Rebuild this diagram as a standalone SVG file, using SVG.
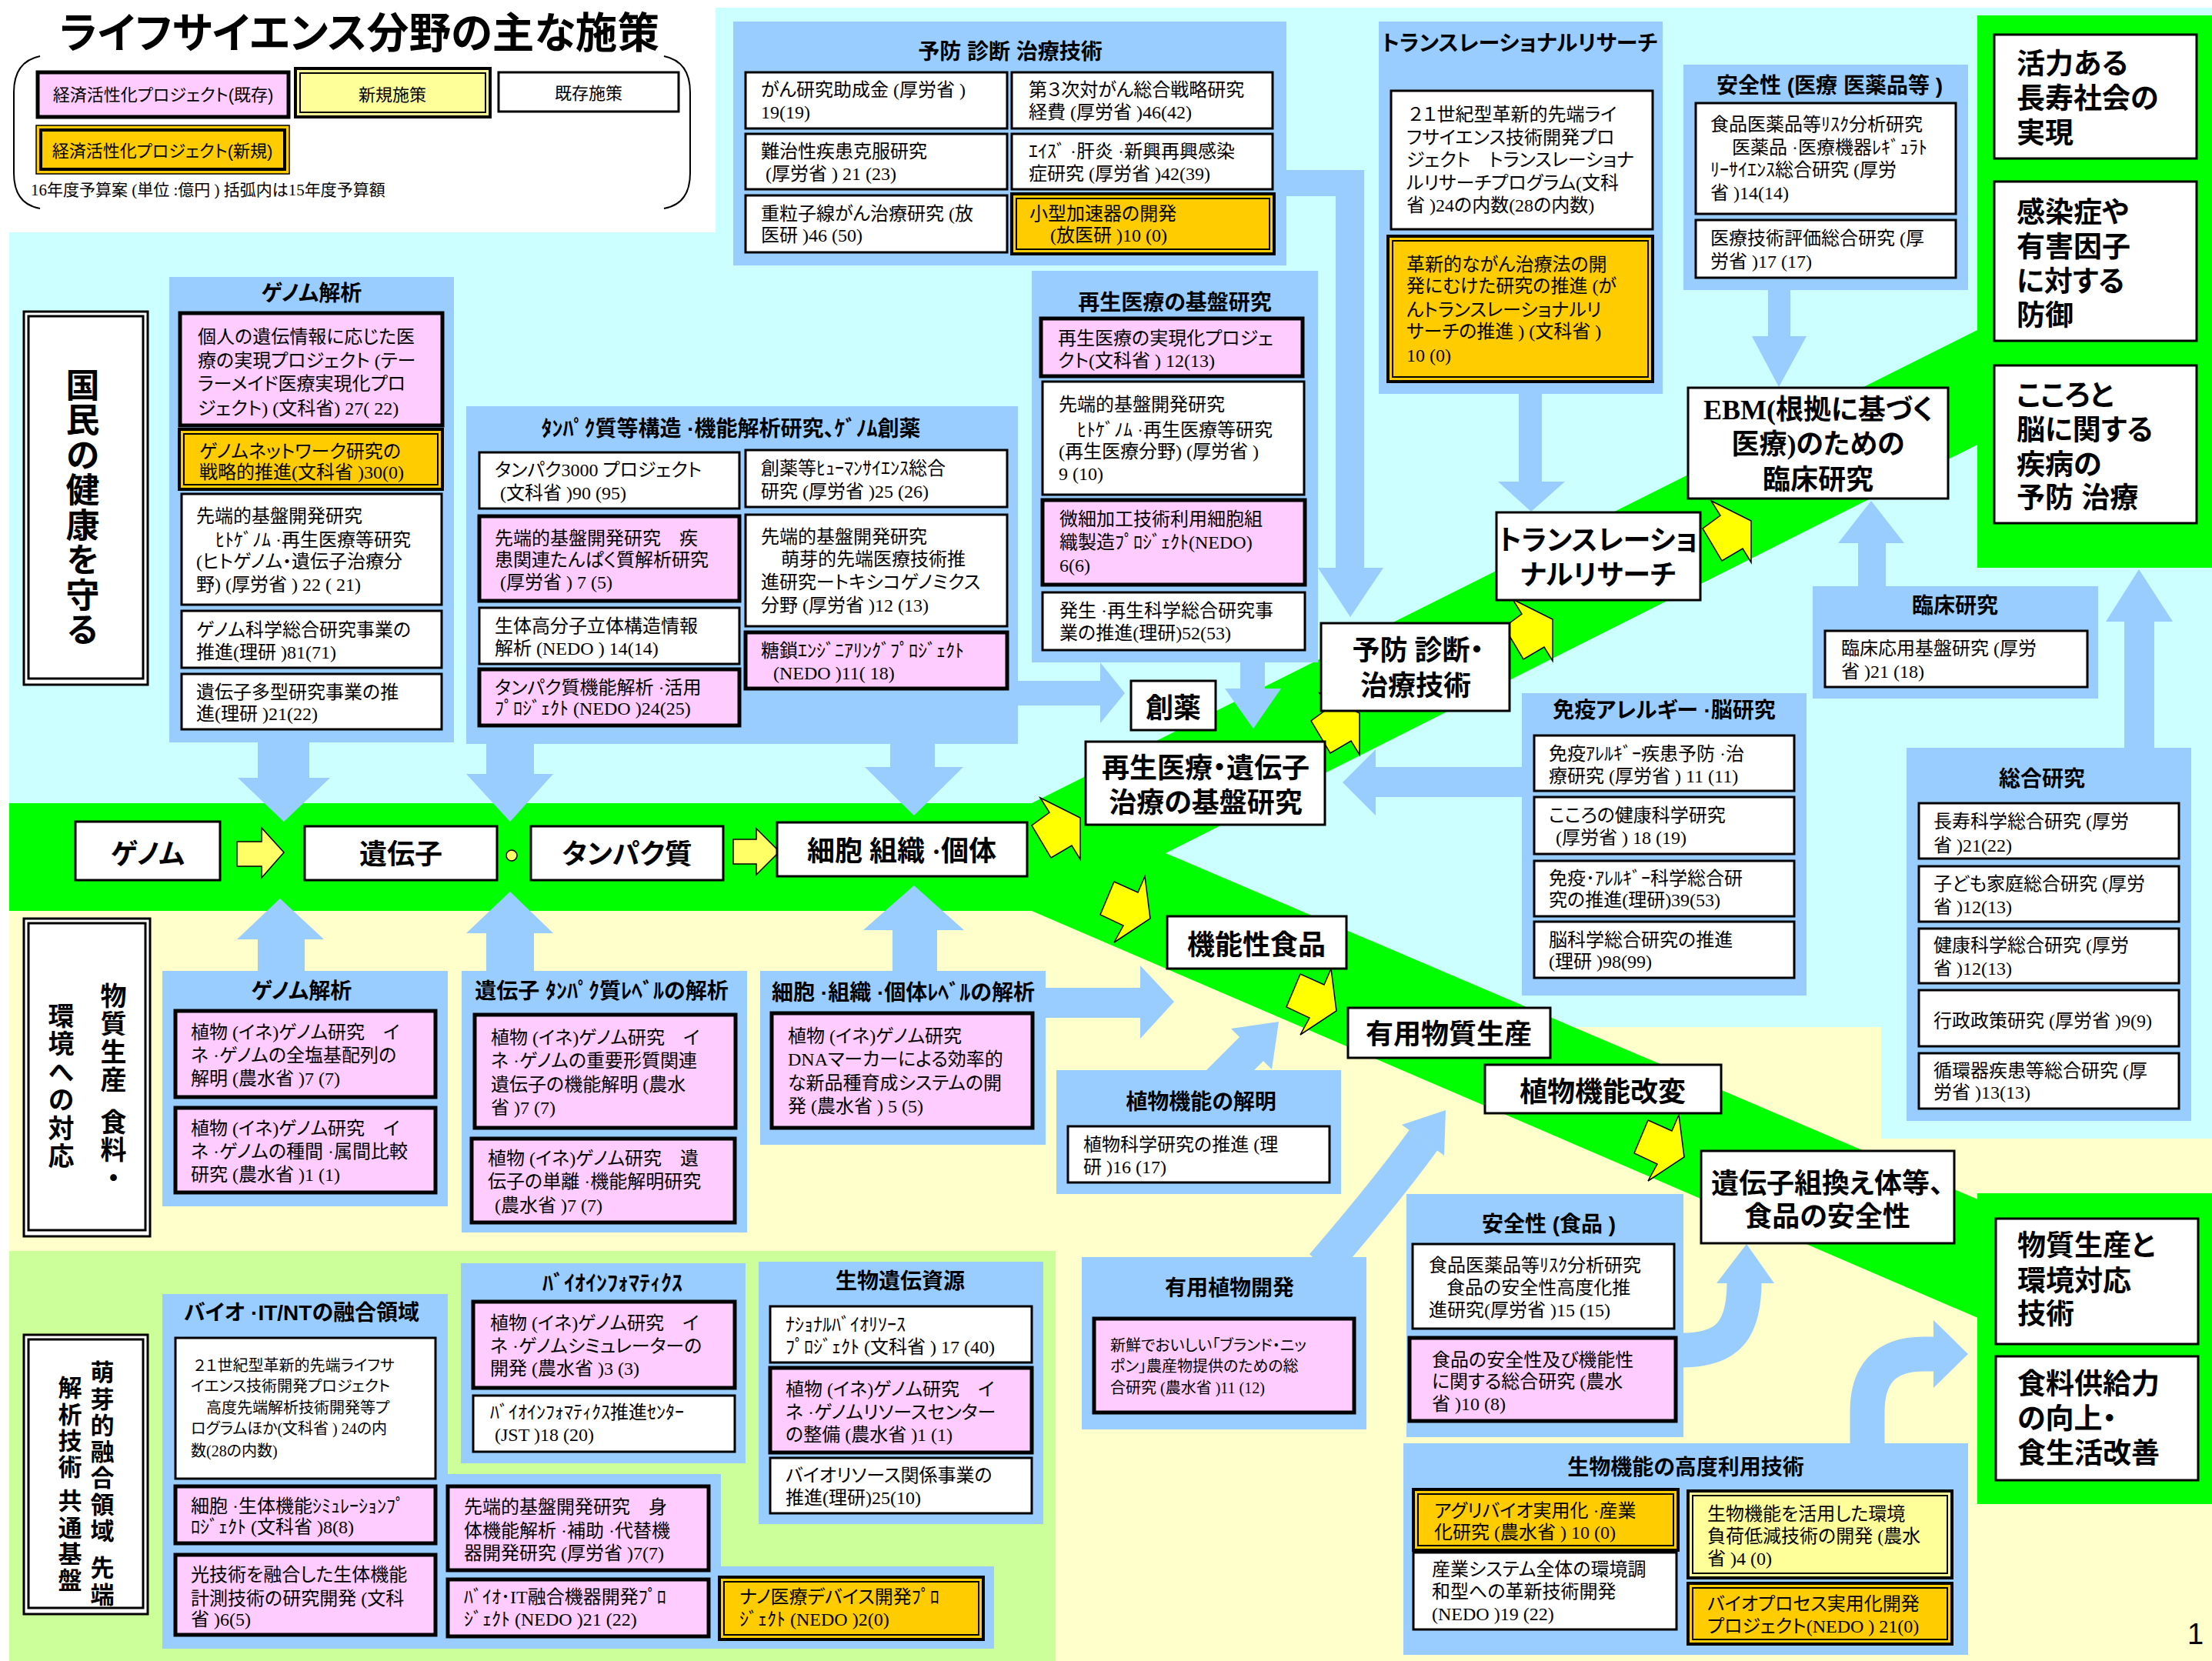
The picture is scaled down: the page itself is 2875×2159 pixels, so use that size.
<svg xmlns="http://www.w3.org/2000/svg" width="2875" height="2159" viewBox="0 0 2875 2159">
<style>
.cy{fill:#CCFFFF}.yl{fill:#FFFFCC}.lg{fill:#CCFF99}.gr{fill:#00FF00}
.pn{fill:#99CCFF}.ar{fill:#99CCFF}.arl{fill:none;stroke:#99CCFF;stroke-width:45}
.w{fill:#fff;stroke:#000;stroke-width:3}
.p{fill:#FFCCFF;stroke:#000;stroke-width:5}
.o{fill:#FFCC00;stroke:#000;stroke-width:4}
.y{fill:#FFFF99;stroke:#000;stroke-width:4}
.in{fill:none;stroke:#000;stroke-width:2}
.bolt{fill:#FFFF00;stroke:#000;stroke-width:1.5}
.ya{fill:#FFFF66;stroke:#000;stroke-width:1.5}
text{font-feature-settings:"palt" 1;fill:#000}
.t{font-family:'Liberation Serif','Noto Sans CJK JP',serif;font-size:24px}
.ts{font-size:20px}
.h{font-family:'Liberation Sans','Noto Sans CJK JP',sans-serif;font-weight:700;font-size:28px;text-anchor:middle}
.n{font-family:'Liberation Serif','Noto Sans CJK JP',sans-serif;font-weight:700;font-size:36px;text-anchor:middle}
.g{font-family:'Liberation Sans','Noto Sans CJK JP',sans-serif;font-weight:700;font-size:37px}
.vt{font-family:'Liberation Sans','Noto Sans CJK JP',sans-serif;font-weight:700;writing-mode:vertical-rl;font-feature-settings:normal}
.lt{font-family:'Liberation Sans','Noto Sans CJK JP',sans-serif;font-size:22px;text-anchor:middle}
</style>
<defs>
<polygon id="bu" points="11,0 63,26 63,80 52,62 25,78 0,36 23,19"/>
<polygon id="bd" points="58,2 65,57 18,88 30,66 0,52 18,9 49,23"/>
</defs>
<g id="background">
<rect fill="#fff" width="2875" height="2159"/>
<rect class="yl" x="12" y="1044" width="2863" height="1115"/>
<polygon class="cy" points="12,302 930,302 930,10 2875,10 2875,1480 2445,1480 2445,1335 2045,1335 1515,1109 1341,1044 12,1044"/>
<rect class="lg" x="12" y="1626" width="1360" height="533"/>
<polygon class="gr" points="12,1044 1341,1044 2580,424 2580,573 1515,1109 2580,1563 2580,1717 1341,1184 12,1184"/>
<rect class="gr" x="2570" y="20" width="305" height="718"/>
<rect class="gr" x="2570" y="1551" width="305" height="404"/>
</g>
<g id="title">
<text x="77" y="62" font-family="'Noto Sans CJK JP',sans-serif" font-weight="700" font-size="55" textLength="780" lengthAdjust="spacingAndGlyphs">ライフサイエンス分野の主な施策</text>
</g>
<g id="legend">
<path d="M52,73 Q18,80 18,120 L18,225 Q18,265 52,271" fill="none" stroke="#000" stroke-width="2"/>
<path d="M863,73 Q897,80 897,120 L897,225 Q897,265 863,271" fill="none" stroke="#000" stroke-width="2"/>
<rect class="p" x="49" y="94" width="326" height="58"/>
<text class="lt" x="212" y="131">経済活性化プロジェクト(既存)</text>
<rect class="y" x="384" y="89" width="253" height="63"/>
<rect class="in" x="390" y="95" width="241" height="51"/>
<text class="lt" x="510" y="131">新規施策</text>
<rect class="w" x="648" y="94" width="234" height="51" stroke-width="2.5"/>
<text class="lt" x="765" y="129">既存施策</text>
<rect fill="#FFCC00" stroke="#000" stroke-width="1.5" x="47" y="163" width="329" height="63"/>
<rect fill="none" stroke="#000" stroke-width="4" x="53" y="169" width="317" height="51"/>
<text class="lt" x="211" y="204">経済活性化プロジェクト(新規)</text>
<text x="40" y="254" font-family="'Liberation Serif','Noto Sans CJK JP',serif" font-size="21">16年度予算案 (単位 :億円 ) 括弧内は15年度予算額</text>
</g>

<g id="connectors">
<polygon class="ar" points="335,965 402,965 402,1011 429,1011 369,1068 309,1011 335,1011"/>
<polygon class="ar" points="632,967 694,967 694,1006 719,1006 663,1068 606,1006 632,1006"/>
<polygon class="ar" points="1157,967 1215,967 1215,997 1252,997 1188,1060 1124,997 1157,997"/>
<polygon class="ar" points="1323,885 1430,885 1430,861 1462,901 1430,940 1430,917 1323,917"/>
<polygon class="ar" points="1672,221 1773,221 1773,738 1798,738 1755,802 1713,738 1736,738 1736,255 1672,255"/>
<polygon class="ar" points="1612,861 1644,861 1644,895 1665,895 1629,947 1592,895 1612,895"/>
<polygon class="ar" points="1974,512 2004,512 2004,626 2034,626 1990,665 1947,626 1974,626"/>
<polygon class="ar" points="2298,377 2327,377 2327,437 2348,437 2312,503 2277,437 2298,437"/>
<polygon class="ar" points="2415,762 2451,762 2451,706 2475,706 2432,651 2389,706 2415,706"/>
<polygon class="ar" points="2761,972 2800,972 2800,808 2824,808 2780,740 2737,808 2761,808"/>
<polygon class="ar" points="1978,997 1788,997 1788,974 1745,1017 1788,1060 1788,1036 1978,1036"/>
<polygon class="ar" points="335,1262 396,1262 396,1221 421,1221 364,1168 308,1221 335,1221"/>
<polygon class="ar" points="632,1262 694,1262 694,1213 719,1213 663,1159 606,1213 632,1213"/>
<polygon class="ar" points="1160,1262 1218,1262 1218,1209 1253,1209 1188,1151 1122,1209 1160,1209"/>
<polygon class="ar" points="1359,1284 1482,1284 1482,1255 1526,1302 1482,1350 1482,1323 1359,1323"/>
<polygon class="ar" points="1568,1391 1611,1348 1600,1337 1662,1328 1653,1390 1642,1379 1630,1391"/>
<path class="arl" d="M1719,1645 Q1803,1547 1850,1482"/>
<polygon class="ar" points="1879,1443 1822,1462 1877,1502"/>
<path class="arl" d="M2186,1755 C2245,1755 2267,1730 2267,1666"/>
<polygon class="ar" points="2231,1668 2306,1668 2270,1617"/>
<path class="arl" d="M2427,1880 L2427,1835 Q2427,1760 2500,1760 L2515,1760"/>
<polygon class="ar" points="2513,1716 2558,1760 2513,1804"/>
<polygon class="ya" points="308,1094 340,1094 340,1076 369,1108 340,1141 340,1126 308,1126"/>
<circle class="ya" cx="665" cy="1112" r="7" stroke="none"/>
<polygon class="ya" points="953,1091 983,1091 983,1077 1013,1107 983,1137 983,1123 953,1123"/>
<use href="#bu" class="bolt" x="1341" y="1037"/>
<use href="#bu" class="bolt" x="1704" y="901"/>
<use href="#bu" class="bolt" x="1955" y="779"/>
<use href="#bu" class="bolt" x="2213" y="651"/>
<use href="#bd" class="bolt" x="1430" y="1137"/>
<use href="#bd" class="bolt" x="1672" y="1257"/>
<use href="#bd" class="bolt" x="2124" y="1447"/>
</g>

<g id="label-health">
<rect fill="#fff" stroke="#000" stroke-width="3" x="31" y="405" width="161" height="485"/>
<rect fill="none" stroke="#000" stroke-width="3" x="37" y="411" width="149" height="471"/>
<text class="vt" x="104" y="478" font-size="44" letter-spacing="1.5">国民の健康を守る</text>
</g>
<g id="label-material">
<rect fill="#fff" stroke="#000" stroke-width="3" x="31" y="1194" width="164" height="413"/>
<rect fill="none" stroke="#000" stroke-width="3" x="37" y="1200" width="152" height="399"/>
<text class="vt" x="145" y="1277" font-size="34" letter-spacing="2.5">物質生産</text>
<text class="vt" x="145" y="1441" font-size="34" letter-spacing="2.5">食料・</text>
<text class="vt" x="77" y="1303" font-size="34" letter-spacing="2.5">環境への対応</text>
</g>
<g id="label-emerging">
<rect fill="#fff" stroke="#000" stroke-width="3" x="31" y="1735" width="161" height="363"/>
<rect fill="none" stroke="#000" stroke-width="3" x="37" y="1741" width="149" height="349"/>
<text class="vt" x="130" y="1768" font-size="31" letter-spacing="3.3">萌芽的融合領域</text>
<text class="vt" x="130" y="2022" font-size="31" letter-spacing="3.3">先端</text>
<text class="vt" x="88" y="1788" font-size="31" letter-spacing="3.3">解析技術</text>
<text class="vt" x="88" y="1935" font-size="31" letter-spacing="3.3">共通基盤</text>
</g>

<g id="panel-genome-health">
<rect class="pn" x="220" y="360" width="370" height="605"/>
<text class="h" x="405" y="391">ゲノム解析</text>
<g id="b1"><rect class="p" x="234" y="407" width="341" height="146"/><text class="t"><tspan x="257" y="446">個人の遺伝情報に応じた医</tspan><tspan x="257" y="477">療の実現プロジェクト (テー</tspan><tspan x="257" y="507">ラーメイド医療実現化プロ</tspan><tspan x="257" y="539">ジェクト) (文科省) 27( 22)</tspan></text></g>
<g id="b2"><rect class="o" x="233" y="558" width="342" height="78"/><rect class="in" x="239" y="564" width="330" height="66"/><text class="t"><tspan x="259" y="595">ゲノムネットワーク研究の</tspan><tspan x="259" y="622">戦略的推進(文科省 )30(0)</tspan></text></g>
<g id="b3"><rect class="w" x="236" y="642" width="338" height="144"/><text class="t"><tspan x="255" y="679">先端的基盤開発研究</tspan><tspan x="280" y="710">ﾋﾄｹﾞﾉﾑ ·再生医療等研究</tspan><tspan x="255" y="738">(ヒトゲノム・遺伝子治療分</tspan><tspan x="255" y="768">野) (厚労省 ) 22 ( 21)</tspan></text></g>
<g id="b4"><rect class="w" x="236" y="794" width="338" height="74"/><text class="t"><tspan x="255" y="827">ゲノム科学総合研究事業の</tspan><tspan x="255" y="856">推進(理研 )81(71)</tspan></text></g>
<g id="b5"><rect class="w" x="236" y="876" width="338" height="72"/><text class="t"><tspan x="255" y="908">遺伝子多型研究事業の推</tspan><tspan x="255" y="936">進(理研 )21(22)</tspan></text></g>
</g>

<g id="panel-protein">
<rect class="pn" x="606" y="528" width="717" height="439"/>
<text class="h" x="950" y="567" font-size="27">ﾀﾝﾊﾟｸ質等構造 ·機能解析研究、ｹﾞﾉﾑ創薬</text>
<g id="b6"><rect class="w" x="623" y="588" width="338" height="73"/><text class="t"><tspan x="643" y="619">タンパク3000 プロジェクト</tspan><tspan x="650" y="649">(文科省 )90 (95)</tspan></text></g>
<g id="b7"><rect class="p" x="623" y="671" width="338" height="110"/><text class="t"><tspan x="643" y="708">先端的基盤開発研究　疾</tspan><tspan x="643" y="736">患関連たんぱく質解析研究</tspan><tspan x="650" y="765">(厚労省 ) 7 (5)</tspan></text></g>
<g id="b8"><rect class="w" x="623" y="790" width="338" height="73"/><text class="t"><tspan x="643" y="822">生体高分子立体構造情報</tspan><tspan x="643" y="851">解析 (NEDO ) 14(14)</tspan></text></g>
<g id="b9"><rect class="p" x="623" y="870" width="338" height="73"/><text class="t"><tspan x="643" y="902">タンパク質機能解析 ·活用</tspan><tspan x="643" y="929">ﾌﾟﾛｼﾞｪｸﾄ (NEDO )24(25)</tspan></text></g>
<g id="b10"><rect class="w" x="969" y="585" width="340" height="74"/><text class="t"><tspan x="989" y="617">創薬等ﾋｭｰﾏﾝｻｲｴﾝｽ総合</tspan><tspan x="989" y="647">研究 (厚労省 )25 (26)</tspan></text></g>
<g id="b11"><rect class="w" x="969" y="669" width="340" height="145"/><text class="t"><tspan x="989" y="706">先端的基盤開発研究</tspan><tspan x="1015" y="735">萌芽的先端医療技術推</tspan><tspan x="989" y="765">進研究ートキシコゲノミクス</tspan><tspan x="989" y="795">分野 (厚労省 )12 (13)</tspan></text></g>
<g id="b12"><rect class="p" x="969" y="822" width="340" height="73"/><text class="t"><tspan x="989" y="854">糖鎖ｴﾝｼﾞﾆｱﾘﾝｸﾞﾌﾟﾛｼﾞｪｸﾄ</tspan><tspan x="1005" y="883">(NEDO )11( 18)</tspan></text></g>
</g>

<g id="panel-prevention">
<rect class="pn" x="953" y="28" width="719" height="317"/>
<text class="h" x="1313" y="77" font-size="30">予防 診断 治療技術</text>
<g id="b13"><rect class="w" x="969" y="94" width="340" height="73"/><text class="t"><tspan x="989" y="125">がん研究助成金 (厚労省 )</tspan><tspan x="989" y="154">19(19)</tspan></text></g>
<g id="b14"><rect class="w" x="1315" y="94" width="339" height="73"/><text class="t"><tspan x="1337" y="125">第３次対がん総合戦略研究</tspan><tspan x="1337" y="154">経費 (厚労省 )46(42)</tspan></text></g>
<g id="b15"><rect class="w" x="969" y="174" width="340" height="72"/><text class="t"><tspan x="989" y="205">難治性疾患克服研究</tspan><tspan x="995" y="234">(厚労省 ) 21 (23)</tspan></text></g>
<g id="b16"><rect class="w" x="1315" y="174" width="339" height="72"/><text class="t"><tspan x="1337" y="205">ｴｲｽﾞ ·肝炎 ·新興再興感染</tspan><tspan x="1337" y="234">症研究 (厚労省 )42(39)</tspan></text></g>
<g id="b17"><rect class="w" x="969" y="254" width="340" height="74"/><text class="t"><tspan x="989" y="286">重粒子線がん治療研究 (放</tspan><tspan x="989" y="314">医研 )46 (50)</tspan></text></g>
<g id="b18"><rect class="o" x="1315" y="252" width="341" height="78"/><rect class="in" x="1321" y="258" width="329" height="66"/><text class="t"><tspan x="1338" y="286">小型加速器の開発</tspan><tspan x="1365" y="314">(放医研 )10 (0)</tspan></text></g>
</g>

<g id="panel-regenerative">
<rect class="pn" x="1341" y="352" width="372" height="509"/>
<text class="h" x="1527" y="403" font-size="30">再生医療の基盤研究</text>
<g id="b19"><rect class="p" x="1353" y="414" width="340" height="75"/><text class="t"><tspan x="1375" y="448">再生医療の実現化プロジェ</tspan><tspan x="1375" y="477">クト(文科省 ) 12(13)</tspan></text></g>
<g id="b20"><rect class="w" x="1355" y="496" width="340" height="147"/><text class="t"><tspan x="1376" y="534">先端的基盤開発研究</tspan><tspan x="1400" y="567">ﾋﾄｹﾞﾉﾑ ·再生医療等研究</tspan><tspan x="1376" y="595">(再生医療分野) (厚労省 )</tspan><tspan x="1376" y="624">9 (10)</tspan></text></g>
<g id="b21"><rect class="p" x="1355" y="650" width="341" height="110"/><text class="t"><tspan x="1377" y="683">微細加工技術利用細胞組</tspan><tspan x="1377" y="713">織製造ﾌﾟﾛｼﾞｪｸﾄ(NEDO)</tspan><tspan x="1377" y="743">6(6)</tspan></text></g>
<g id="b22"><rect class="w" x="1355" y="770" width="341" height="75"/><text class="t"><tspan x="1377" y="802">発生 ·再生科学総合研究事</tspan><tspan x="1377" y="831">業の推進(理研)52(53)</tspan></text></g>
</g>

<g id="panel-translational">
<rect class="pn" x="1792" y="28" width="369" height="484"/>
<text class="h" x="1975" y="66" font-size="25">トランスレーショナルリサーチ</text>
<g id="b23"><rect class="w" x="1808" y="118" width="340" height="180"/><text class="t"><tspan x="1831" y="157">２１世紀型革新的先端ライ</tspan><tspan x="1828" y="187">フサイエンス技術開発プロ</tspan><tspan x="1828" y="216">ジェクト　トランスレーショナ</tspan><tspan x="1828" y="246">ルリサーチプログラム(文科</tspan><tspan x="1828" y="275">省 )24の内数(28の内数)</tspan></text></g>
<g id="b24"><rect class="o" x="1804" y="307" width="344" height="189"/><rect class="in" x="1810" y="313" width="332" height="177"/><text class="t"><tspan x="1828" y="352">革新的ながん治療法の開</tspan><tspan x="1828" y="380">発にむけた研究の推進 (が</tspan><tspan x="1828" y="411">んトランスレーショナルリ</tspan><tspan x="1828" y="439">サーチの推進 ) (文科省 )</tspan><tspan x="1828" y="470">10 (0)</tspan></text></g>
</g>

<g id="panel-safety-medical">
<rect class="pn" x="2188" y="84" width="370" height="293"/>
<text class="h" x="2378" y="121" font-size="30">安全性 (医療 医薬品等 )</text>
<g id="b25"><rect class="w" x="2204" y="134" width="338" height="144"/><text class="t"><tspan x="2223" y="170">食品医薬品等ﾘｽｸ分析研究</tspan><tspan x="2251" y="200">医薬品 ·医療機器ﾚｷﾞｭﾗﾄ</tspan><tspan x="2223" y="229">ﾘｰｻｲｴﾝｽ総合研究 (厚労</tspan><tspan x="2223" y="259">省 )14(14)</tspan></text></g>
<g id="b26"><rect class="w" x="2204" y="286" width="338" height="75"/><text class="t"><tspan x="2223" y="318">医療技術評価総合研究 (厚</tspan><tspan x="2223" y="348">労省 )17 (17)</tspan></text></g>
</g>

<g id="goal-vitality"><rect class="w" x="2592" y="45" width="263" height="161"/><text class="g"><tspan x="2621" y="96">活力ある</tspan><tspan x="2621" y="141">長寿社会の</tspan><tspan x="2621" y="186">実現</tspan></text></g>
<g id="goal-infection"><rect class="w" x="2592" y="236" width="263" height="207"/><text class="g"><tspan x="2621" y="289">感染症や</tspan><tspan x="2621" y="334">有害因子</tspan><tspan x="2621" y="379">に対する</tspan><tspan x="2621" y="423">防御</tspan></text></g>
<g id="goal-mind"><rect class="w" x="2592" y="475" width="263" height="205"/><text class="g"><tspan x="2621" y="527">こころと</tspan><tspan x="2621" y="572">脳に関する</tspan><tspan x="2621" y="617">疾病の</tspan><tspan x="2621" y="660">予防 治療</tspan></text></g>

<g id="node-ebm"><rect class="w" x="2194" y="504" width="338" height="144"/><text class="n"><tspan x="2363" y="545">EBM(根拠に基づく</tspan><tspan x="2363" y="590">医療)のための</tspan><tspan x="2363" y="636">臨床研究</tspan></text></g>
<g id="node-trans"><rect class="w" x="1945" y="666" width="265" height="114"/><text class="n"><tspan x="2077" y="715">トランスレーショ</tspan><tspan x="2077" y="760">ナルリサーチ</tspan></text></g>
<g id="node-prevention"><rect class="w" x="1717" y="810" width="245" height="114"/><text class="n"><tspan x="1843" y="858">予防 診断・</tspan><tspan x="1840" y="904">治療技術</tspan></text></g>
<g id="node-drug"><rect class="w" x="1470" y="885" width="110" height="64"/><text class="n" x="1525" y="933">創薬</text></g>
<g id="node-regen"><rect class="w" x="1411" y="964" width="311" height="108"/><text class="n"><tspan x="1567" y="1011">再生医療・遺伝子</tspan><tspan x="1567" y="1056">治療の基盤研究</tspan></text></g>

<g id="panel-clinical">
<rect class="pn" x="2356" y="762" width="371" height="146"/>
<text class="h" x="2541" y="797" font-size="30">臨床研究</text>
<g id="b27"><rect class="w" x="2372" y="820" width="341" height="73"/><text class="t"><tspan x="2393" y="851">臨床応用基盤研究 (厚労</tspan><tspan x="2393" y="881">省 )21 (18)</tspan></text></g>
</g>

<g id="panel-immune">
<rect class="pn" x="1978" y="901" width="370" height="393"/>
<text class="h" x="2163" y="933">免疫アレルギー ·脳研究</text>
<g id="b28"><rect class="w" x="1994" y="956" width="338" height="72"/><text class="t"><tspan x="2013" y="988">免疫ｱﾚﾙｷﾞｰ疾患予防 ·治</tspan><tspan x="2013" y="1017">療研究 (厚労省 ) 11 (11)</tspan></text></g>
<g id="b29"><rect class="w" x="1994" y="1036" width="338" height="74"/><text class="t"><tspan x="2013" y="1068">こころの健康科学研究</tspan><tspan x="2022" y="1097">(厚労省 ) 18 (19)</tspan></text></g>
<g id="b30"><rect class="w" x="1994" y="1119" width="338" height="72"/><text class="t"><tspan x="2013" y="1150">免疫･ｱﾚﾙｷﾞｰ科学総合研</tspan><tspan x="2013" y="1178">究の推進(理研)39(53)</tspan></text></g>
<g id="b31"><rect class="w" x="1994" y="1198" width="338" height="73"/><text class="t"><tspan x="2013" y="1230">脳科学総合研究の推進</tspan><tspan x="2013" y="1258">(理研 )98(99)</tspan></text></g>
</g>

<g id="panel-general">
<rect class="pn" x="2478" y="972" width="370" height="485"/>
<text class="h" x="2654" y="1022" font-size="30">総合研究</text>
<g id="b32"><rect class="w" x="2494" y="1044" width="338" height="72"/><text class="t"><tspan x="2513" y="1076">長寿科学総合研究 (厚労</tspan><tspan x="2513" y="1107">省 )21(22)</tspan></text></g>
<g id="b33"><rect class="w" x="2494" y="1126" width="338" height="72"/><text class="t"><tspan x="2513" y="1157">子ども家庭総合研究 (厚労</tspan><tspan x="2513" y="1187">省 )12(13)</tspan></text></g>
<g id="b34"><rect class="w" x="2494" y="1207" width="338" height="71"/><text class="t"><tspan x="2513" y="1237">健康科学総合研究 (厚労</tspan><tspan x="2513" y="1267">省 )12(13)</tspan></text></g>
<g id="b35"><rect class="w" x="2494" y="1287" width="338" height="73"/><text class="t" x="2513" y="1335">行政政策研究 (厚労省 )9(9)</text></g>
<g id="b36"><rect class="w" x="2494" y="1369" width="338" height="72"/><text class="t"><tspan x="2513" y="1400">循環器疾患等総合研究 (厚</tspan><tspan x="2513" y="1428">労省 )13(13)</tspan></text></g>
</g>

<g id="node-genome"><rect class="w" x="98" y="1068" width="188" height="76"/><text class="n" x="192" y="1123">ゲノム</text></g>
<g id="node-gene"><rect class="w" x="396" y="1074" width="250" height="70"/><text class="n" x="521" y="1123">遺伝子</text></g>
<g id="node-protein"><rect class="w" x="690" y="1074" width="250" height="70"/><text class="n" x="815" y="1123">タンパク質</text></g>
<g id="node-cell"><rect class="w" x="1010" y="1069" width="325" height="70"/><text class="n" x="1172" y="1119">細胞 組織 ·個体</text></g>
<g id="node-functional-food"><rect class="w" x="1517" y="1191" width="233" height="68"/><text class="n" x="1633" y="1241">機能性食品</text></g>
<g id="node-useful"><rect class="w" x="1752" y="1310" width="263" height="65"/><text class="n" x="1883" y="1357">有用物質生産</text></g>
<g id="node-plant-mod"><rect class="w" x="1930" y="1384" width="307" height="63"/><text class="n" x="2083" y="1432">植物機能改変</text></g>
<g id="node-gmo"><rect class="w" x="2211" y="1496" width="329" height="120"/><text class="n"><tspan x="2375" y="1551">遺伝子組換え体等、</tspan><tspan x="2375" y="1594">食品の安全性</tspan></text></g>

<g id="goal-material"><rect class="w" x="2594" y="1584" width="263" height="163"/><text class="g"><tspan x="2622" y="1632">物質生産と</tspan><tspan x="2622" y="1678">環境対応</tspan><tspan x="2622" y="1721">技術</tspan></text></g>
<g id="goal-food"><rect class="w" x="2594" y="1763" width="263" height="161"/><text class="g"><tspan x="2622" y="1812">食料供給力</tspan><tspan x="2622" y="1857">の向上・</tspan><tspan x="2622" y="1902">食生活改善</tspan></text></g>

<g id="panel-genome-plant">
<rect class="pn" x="211" y="1262" width="371" height="306"/>
<text class="h" x="392" y="1298">ゲノム解析</text>
<g id="b37"><rect class="p" x="228" y="1314" width="338" height="112"/><text class="t"><tspan x="248" y="1350">植物 (イネ)ゲノム研究　イ</tspan><tspan x="248" y="1380">ネ ·ゲノムの全塩基配列の</tspan><tspan x="248" y="1410">解明 (農水省 )7 (7)</tspan></text></g>
<g id="b38"><rect class="p" x="228" y="1440" width="338" height="110"/><text class="t"><tspan x="248" y="1475">植物 (イネ)ゲノム研究　イ</tspan><tspan x="248" y="1505">ネ ·ゲノムの種間 ·属間比較</tspan><tspan x="248" y="1535">研究 (農水省 )1 (1)</tspan></text></g>
</g>
<g id="panel-gene-protein">
<rect class="pn" x="600" y="1262" width="371" height="340"/>
<text class="h" x="782" y="1298">遺伝子 ﾀﾝﾊﾟｸ質ﾚﾍﾞﾙの解析</text>
<g id="b39"><rect class="p" x="617" y="1319" width="339" height="147"/><text class="t"><tspan x="638" y="1357">植物 (イネ)ゲノム研究　イ</tspan><tspan x="638" y="1387">ネ ·ゲノムの重要形質関連</tspan><tspan x="638" y="1418">遺伝子の機能解明 (農水</tspan><tspan x="638" y="1448">省 )7 (7)</tspan></text></g>
<g id="b40"><rect class="p" x="613" y="1480" width="342" height="109"/><text class="t"><tspan x="634" y="1514">植物 (イネ)ゲノム研究　遺</tspan><tspan x="634" y="1544">伝子の単離 ·機能解明研究</tspan><tspan x="643" y="1575">(農水省 )7 (7)</tspan></text></g>
</g>
<g id="panel-cell-level">
<rect class="pn" x="988" y="1262" width="371" height="226"/>
<text class="h" x="1174" y="1300">細胞 ·組織 ·個体ﾚﾍﾞﾙの解析</text>
<g id="b41"><rect class="p" x="1003" y="1317" width="339" height="149"/><text class="t"><tspan x="1024" y="1355">植物 (イネ)ゲノム研究</tspan><tspan x="1024" y="1385">DNAマーカーによる効率的</tspan><tspan x="1024" y="1416">な新品種育成システムの開</tspan><tspan x="1024" y="1446">発 (農水省 ) 5 (5)</tspan></text></g>
</g>
<g id="panel-plant-function">
<rect class="pn" x="1373" y="1391" width="370" height="161"/>
<text class="h" x="1561" y="1442">植物機能の解明</text>
<g id="b42"><rect class="w" x="1388" y="1464" width="340" height="73"/><text class="t"><tspan x="1408" y="1496">植物科学研究の推進 (理</tspan><tspan x="1408" y="1525">研 )16 (17)</tspan></text></g>
</g>
<g id="panel-useful-plant">
<rect class="pn" x="1406" y="1634" width="370" height="224"/>
<text class="h" x="1598" y="1684">有用植物開発</text>
<g id="b43"><rect class="p" x="1422" y="1714" width="338" height="122"/><text class="t ts"><tspan x="1443" y="1756">新鮮でおいしい「ブランド・ニッ</tspan><tspan x="1443" y="1783">ポン」農産物提供のための総</tspan><tspan x="1443" y="1811">合研究 (農水省 )11 (12)</tspan></text></g>
</g>
<g id="panel-food-safety">
<rect class="pn" x="1828" y="1552" width="360" height="316"/>
<text class="h" x="2013" y="1601" font-size="30">安全性 (食品 )</text>
<g id="b44"><rect class="w" x="1836" y="1617" width="340" height="110"/><text class="t"><tspan x="1857" y="1653">食品医薬品等ﾘｽｸ分析研究</tspan><tspan x="1880" y="1682">食品の安全性高度化推</tspan><tspan x="1857" y="1711">進研究(厚労省 )15 (15)</tspan></text></g>
<g id="b45"><rect class="p" x="1832" y="1739" width="346" height="108"/><text class="t"><tspan x="1861" y="1776">食品の安全性及び機能性</tspan><tspan x="1861" y="1804">に関する総合研究 (農水</tspan><tspan x="1861" y="1833">省 )10 (8)</tspan></text></g>
</g>
<g id="panel-bio-use">
<rect class="pn" x="1824" y="1876" width="734" height="275"/>
<text class="h" x="2191" y="1917" font-size="30">生物機能の高度利用技術</text>
<g id="b46"><rect class="o" x="1837" y="1936" width="344" height="79"/><rect class="in" x="1843" y="1942" width="332" height="67"/><text class="t"><tspan x="1864" y="1972">アグリバイオ実用化 ·産業</tspan><tspan x="1864" y="2000">化研究 (農水省 ) 10 (0)</tspan></text></g>
<g id="b47"><rect class="w" x="1837" y="2018" width="342" height="100"/><text class="t"><tspan x="1861" y="2048">産業システム全体の環境調</tspan><tspan x="1861" y="2077">和型への革新技術開発</tspan><tspan x="1861" y="2106">(NEDO )19 (22)</tspan></text></g>
<g id="b48"><rect class="y" x="2194" y="1938" width="343" height="113"/><rect class="in" x="2200" y="1944" width="331" height="101"/><text class="t"><tspan x="2219" y="1976">生物機能を活用した環境</tspan><tspan x="2219" y="2005">負荷低減技術の開発 (農水</tspan><tspan x="2219" y="2034">省 )4 (0)</tspan></text></g>
<g id="b49"><rect class="o" x="2194" y="2058" width="343" height="79"/><rect class="in" x="2200" y="2064" width="331" height="67"/><text class="t"><tspan x="2219" y="2093">バイオプロセス実用化開発</tspan><tspan x="2219" y="2122">プロジェクト(NEDO ) 21(0)</tspan></text></g>
</g>

<g id="panel-bio-it">
<polygon class="pn" points="211,1682 582,1682 582,1916 937,1916 937,2036 1292,2036 1292,2143 211,2143"/>
<text class="h" x="392" y="1716">バイオ ·IT/NTの融合領域</text>
<g id="b50"><rect class="w" x="228" y="1739" width="338" height="183"/><text class="t ts"><tspan x="252" y="1782">２１世紀型革新的先端ライフサ</tspan><tspan x="248" y="1809">イエンス技術開発プロジェクト</tspan><tspan x="268" y="1837">高度先端解析技術開発等プ</tspan><tspan x="248" y="1864">ログラムほか(文科省 ) 24の内</tspan><tspan x="248" y="1893">数(28の内数)</tspan></text></g>
<g id="b51"><rect class="p" x="228" y="1932" width="338" height="74"/><text class="t"><tspan x="248" y="1966">細胞 ·生体機能ｼﾐｭﾚｰｼｮﾝﾌﾟ</tspan><tspan x="248" y="1993">ﾛｼﾞｪｸﾄ (文科省 )8(8)</tspan></text></g>
<g id="b52"><rect class="p" x="228" y="2021" width="338" height="104"/><text class="t"><tspan x="248" y="2055">光技術を融合した生体機能</tspan><tspan x="248" y="2086">計測技術の研究開発 (文科</tspan><tspan x="248" y="2113">省 )6(5)</tspan></text></g>
<g id="b53"><rect class="p" x="582" y="1932" width="339" height="109"/><text class="t"><tspan x="603" y="1967">先端的基盤開発研究　身</tspan><tspan x="603" y="1998">体機能解析 ·補助 ·代替機</tspan><tspan x="603" y="2027">器開発研究 (厚労省 )7(7)</tspan></text></g>
<g id="b54"><rect class="p" x="582" y="2053" width="339" height="74"/><text class="t"><tspan x="603" y="2084">ﾊﾞｲｵ･IT融合機器開発ﾌﾟﾛ</tspan><tspan x="603" y="2113">ｼﾞｪｸﾄ (NEDO )21 (22)</tspan></text></g>
<g id="b55"><rect class="o" x="935" y="2050" width="343" height="81"/><rect class="in" x="941" y="2056" width="331" height="69"/><text class="t"><tspan x="961" y="2084">ナノ医療デバイス開発ﾌﾟﾛ</tspan><tspan x="961" y="2113">ｼﾞｪｸﾄ (NEDO )2(0)</tspan></text></g>
</g>
<g id="panel-bioinformatics">
<rect class="pn" x="599" y="1642" width="370" height="260"/>
<text class="h" x="796" y="1678">ﾊﾞｲｵｲﾝﾌｫﾏﾃｨｸｽ</text>
<g id="b56"><rect class="p" x="615" y="1692" width="340" height="112"/><text class="t"><tspan x="637" y="1728">植物 (イネ)ゲノム研究　イ</tspan><tspan x="637" y="1758">ネ ·ゲノムシミュレーターの</tspan><tspan x="637" y="1787">開発 (農水省 )3 (3)</tspan></text></g>
<g id="b57"><rect class="w" x="615" y="1814" width="340" height="73"/><text class="t"><tspan x="637" y="1844">ﾊﾞｲｵｲﾝﾌｫﾏﾃｨｸｽ推進ｾﾝﾀｰ</tspan><tspan x="643" y="1873">(JST )18 (20)</tspan></text></g>
</g>
<g id="panel-bioresource">
<rect class="pn" x="986" y="1640" width="370" height="341"/>
<text class="h" x="1170" y="1675">生物遺伝資源</text>
<g id="b58"><rect class="w" x="1001" y="1698" width="340" height="73"/><text class="t"><tspan x="1021" y="1730">ﾅｼｮﾅﾙﾊﾞｲｵﾘｿｰｽ</tspan><tspan x="1021" y="1759">ﾌﾟﾛｼﾞｪｸﾄ (文科省 ) 17 (40)</tspan></text></g>
<g id="b59"><rect class="p" x="1001" y="1778" width="340" height="110"/><text class="t"><tspan x="1021" y="1814">植物 (イネ)ゲノム研究　イ</tspan><tspan x="1021" y="1844">ネ ·ゲノムリソースセンター</tspan><tspan x="1021" y="1873">の整備 (農水省 )1 (1)</tspan></text></g>
<g id="b60"><rect class="w" x="1001" y="1895" width="340" height="72"/><text class="t"><tspan x="1021" y="1926">バイオリソース関係事業の</tspan><tspan x="1021" y="1955">推進(理研)25(10)</tspan></text></g>
</g>
<g id="page-number"><text x="2843" y="2137" font-family="'Liberation Sans',sans-serif" font-size="38">1</text></g>
</svg>
